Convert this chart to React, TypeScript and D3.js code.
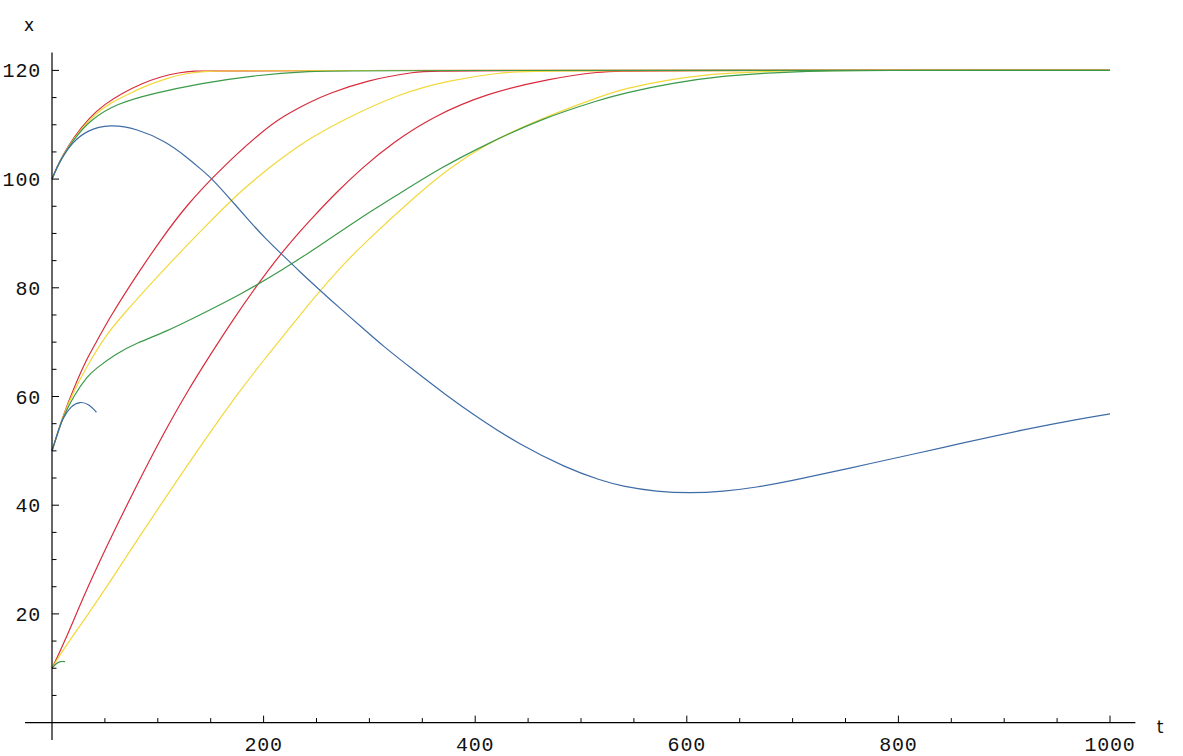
import React from "react";
import * as d3 from "d3";

type P = [number, number];

const xTicksMajor = [200, 400, 600, 800, 1000];
const yTicksMajor = [20, 40, 60, 80, 100, 120];

const red100: P[] = [[0,100],[5,102.3],[10,104.3],[20,107.6],[36,111.5],[50,113.8],[66,115.8],[85,117.6],[102,118.8],[120,119.6],[135,119.9],[150,120],[1000,120]];
const yellow100: P[] = [[0,100],[5,102.3],[10,104.2],[20,107.4],[39,111.8],[55,114.0],[74,115.8],[90,117.3],[108,118.5],[125,119.4],[146,119.9],[175,120],[1000,120]];
const green100: P[] = [[0,100],[5,102.3],[10,104.1],[20,107.2],[36,110.9],[61,113.9],[96,115.8],[140,117.6],[187,119.0],[244,119.9],[290,120],[1000,120]];
const blue100: P[] = [[0,100],[5,102.3],[10,104.1],[18.6,106.6],[32.8,109.0],[55,110.1],[80,109.3],[108,106.9],[127,104.1],[141.5,101.7],[151,100.1],[165,97.1],[187,92.2],[200,89.4],[218.6,85.9],[234,83.0],[253,79.6],[270.6,76.5],[296,72.2],[311.6,69.5],[341.5,64.9],[370,60.6],[404.5,55.8],[440.7,51.3],[486.5,46.8],[518,44.6],[540,43.4],[571.5,42.5],[603,42.2],[634.5,42.5],[666,43.3],[697.5,44.4],[751,46.7],[823.5,49.8],[855,51.2],[918,53.9],[975,56.0],[1000,56.8]];

const red50: P[] = [[0,50],[5,53],[10,56.2],[20,61.3],[33.7,67.3],[40.6,69.5],[54,74.4],[81.6,82.8],[102,88.6],[127,95.2],[160,102.0],[198,108.7],[218.6,111.6],[244,114.2],[259.6,115.6],[297.5,118.2],[344.7,119.8],[365,120],[1000,120]];
const yellow50: P[] = [[0,50],[5,53],[10,56.1],[20,60.8],[33.7,65.8],[50,71],[64,74.4],[105,83.3],[152.5,92.8],[174.6,97.1],[206,102.3],[234,106.2],[244,107.5],[275,110.9],[329,115.8],[376,118.2],[423,119.6],[455,120],[1000,120]];
const green50: P[] = [[0,50],[5,53],[10,56],[20,60],[33.7,63.8],[40.6,65],[60,67.8],[79.4,69.8],[108.4,72.0],[133.6,74.4],[180.8,79.0],[220,83.6],[244,86.6],[256.4,88.2],[291,92.8],[329,97.4],[366.7,102.0],[411,106.5],[464,111.2],[518,114.6],[540,115.8],[587,117.7],[634.5,119.0],[682,119.6],[729,119.9],[760,120],[1000,120]];
const blue50: P[] = [[0,50],[5,53.2],[10,56],[18,58.3],[26.5,59.1],[35,58.6],[42,57.1]];

const red10: P[] = [[0,10],[10.7,14.3],[33.7,25.0],[58,35.0],[81,44.0],[104.6,52.9],[128,61.0],[152,68.4],[171,74.1],[193.5,80.4],[218.6,86.9],[244,92.5],[269,97.6],[292.7,102.0],[322.6,106.8],[360,111.5],[411,115.8],[470.7,118.5],[518,119.8],[545,120],[1000,120]];
const yellow10: P[] = [[0,10],[10,13.3],[33.7,19.8],[58,26.8],[81,33.8],[104.6,40.6],[128,47.4],[152,54.1],[175.5,60.5],[200,66.7],[231,74.1],[244,77.3],[269,83.0],[292.7,87.8],[344.7,97.1],[376,102.1],[411,106.5],[455,110.6],[518,115.2],[540,116.6],[587,118.5],[634.5,119.5],[682,119.9],[740,120],[1000,120]];
const green10: P[] = [[0,10],[4,10.9],[8,11.3],[12.3,11.2]];

const RED = "#d82c3c";
const YELLOW = "#f3d83c";
const GREEN = "#3c9a4a";
const BLUE = "#3f6ca6";

const series: { data: P[]; color: string }[] = [
  { data: red10, color: RED },
  { data: yellow10, color: YELLOW },
  { data: green10, color: GREEN },
  { data: red50, color: RED },
  { data: yellow50, color: YELLOW },
  { data: green50, color: GREEN },
  { data: blue50, color: BLUE },
  { data: red100, color: RED },
  { data: yellow100, color: YELLOW },
  { data: green100, color: GREEN },
  { data: blue100, color: BLUE },
];

export default function App() {
  const W = 1183, H = 756;
  const x = d3.scaleLinear().domain([0, 1000]).range([52, 1110]);
  const y = d3.scaleLinear().domain([0, 120]).range([722.6, 70.4]);
  const line = d3.line<P>().x(d => x(d[0])).y(d => y(d[1])).curve(d3.curveBasis);

  const xMinor = d3.range(50, 1001, 50).filter(v => !xTicksMajor.includes(v));
  const yMinor = d3.range(5, 121, 5).filter(v => !yTicksMajor.includes(v));
  const tickFont = "'Liberation Mono', 'DejaVu Sans Mono', monospace";

  return (
    <svg width={W} height={H} style={{ position: "absolute", left: 0, top: 0, background: "#fff" }}>
      <rect x={0} y={0} width={W} height={H} fill="#fff" />
      {series.map((s, i) => (
        <path key={i} d={line(s.data) || ""} fill="none" stroke={s.color} strokeWidth={1.2} />
      ))}
      <line x1={x(-25.5)} x2={x(1024)} y1={y(0)} y2={y(0)} stroke="#000" strokeWidth={1.2} />
      <line x1={x(0)} x2={x(0)} y1={y(-3.2)} y2={y(123.3)} stroke="#000" strokeWidth={1.2} />
      {xTicksMajor.map(v => (
        <g key={"xm" + v}>
          <line x1={x(v)} x2={x(v)} y1={y(0)} y2={y(0) - 7} stroke="#000" strokeWidth={1} />
          <text x={x(v)} y={y(0) + 28} textAnchor="middle" fontFamily={tickFont} fontSize={20} letterSpacing={0.8} fill="#111">{v}</text>
        </g>
      ))}
      {xMinor.map(v => (
        <line key={"xn" + v} x1={x(v)} x2={x(v)} y1={y(0)} y2={y(0) - 4.5} stroke="#000" strokeWidth={1} />
      ))}
      {yTicksMajor.map(v => (
        <g key={"ym" + v}>
          <line x1={x(0)} x2={x(0) + 7} y1={y(v)} y2={y(v)} stroke="#000" strokeWidth={1} />
          <text x={41} y={y(v) + 7} textAnchor="end" fontFamily={tickFont} fontSize={20} letterSpacing={0.8} fill="#111">{v}</text>
        </g>
      ))}
      {yMinor.map(v => (
        <line key={"yn" + v} x1={x(0)} x2={x(0) + 4.5} y1={y(v)} y2={y(v)} stroke="#000" strokeWidth={1} />
      ))}
      <text x={29} y={31} textAnchor="middle" fontFamily="'DejaVu Sans', sans-serif" fontSize={17} fill="#111">x</text>
      <text x={1160} y={733} textAnchor="middle" fontFamily="'DejaVu Sans', sans-serif" fontSize={17} fill="#111">t</text>
    </svg>
  );
}
